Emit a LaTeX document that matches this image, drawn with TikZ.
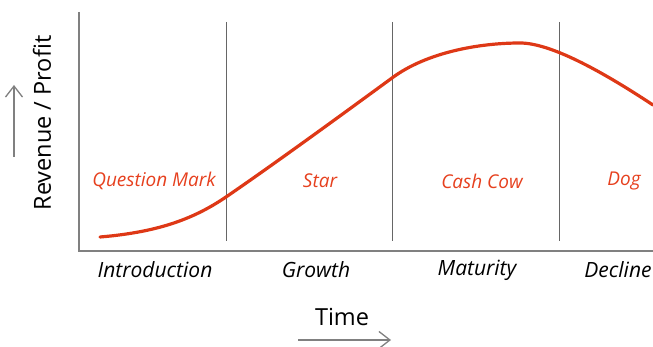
\documentclass[tikz,border=0pt]{standalone}
\usepackage{fontspec}
\setmainfont{Open Sans}
\usetikzlibrary{arrows.meta}

\definecolor{curvered}{RGB}{222,56,22}
\definecolor{labelred}{RGB}{230,64,30}
\definecolor{axisgray}{RGB}{128,128,128}

\begin{document}
\begin{tikzpicture}[x = 1pt, y = -1pt, % pixel grid, y downwards
                axis/.style = {draw = axisgray, line width = 1.4pt},
                axisarrow/.style = {draw = axisgray, line width = 1.3pt,
                    -{Straight Barb[length = 11pt, width = 17pt]}}, % arrow head style
                divider/.style = {draw = black!60, line width = 0.9pt},
                phase/.style = {text = labelred, font = \fontsize{19}{22}\selectfont\itshape},
                stage/.style = {text = black, font = \fontsize{21}{24}\selectfont\itshape},
                title/.style = {text = black, font = \fontsize{23.5}{27}\selectfont}
            ]

            \useasboundingbox (0,0) rectangle (653,347);

            % axes
            \coordinate (top) at (79,12); \coordinate (origin) at (79,251);
            \coordinate (right) at (653,251);
            \draw[axis] (top) -- (origin) -- (right);

            % phase borders
            \foreach \x/\n in {226/a, 392/b, 559/c} {
                \coordinate (\n up) at (\x,22); \coordinate (\n down) at (\x,241);
                \draw[divider] (\n up) -- (\n down);
            }

            % life cycle curve
            \coordinate (c0) at (100,237); \coordinate (c1) at (226,197);
            \coordinate (c2) at (392,78); \coordinate (c3) at (520,43);
            \coordinate (c4) at (653,105);
            \draw[curvered, line width = 3.2pt, line cap = round]
                (c0) .. controls (160,232) and (195,218) .. (c1)
                .. controls (280,160) and (355,105) .. (c2)
                .. controls (427,52) and (480,43) .. (c3)
                .. controls (550,43) and (600,70) .. (c4);

            % phases
            \node[phase] (question) at (154,181) {Question Mark};
            \node[phase] (star) at (320,181) {Star};
            \node[phase] (cashcow) at (482,181) {Cash Cow};
            \node[phase] (dog) at (624,181) {Dog};

            % stages
            \node[stage] (intro) at (155,270) {Introduction};
            \node[stage] (growth) at (316,270) {Growth};
            \node[stage] (maturity) at (477,270) {Maturity};
            \node[stage] (decline) at (618,270) {Decline};

            % axis titles
            \node[title] (time) at (342,317) {Time};
            \coordinate (t1) at (298,340); \coordinate (t2) at (391,340);
            \draw[axisarrow] (t1) -- (t2);

            \node[title, rotate = 90] (revenue) at (42,123) {Revenue / Profit};
            \coordinate (r1) at (14,157); \coordinate (r2) at (14,85);
            \draw[axisarrow] (r1) -- (r2);
\end{tikzpicture}
\end{document}
